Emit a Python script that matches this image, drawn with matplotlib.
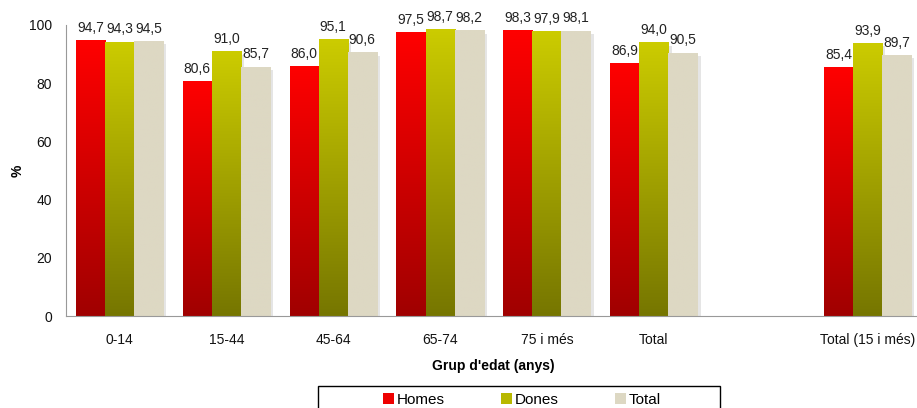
import matplotlib
matplotlib.use("Agg")
import matplotlib.pyplot as plt
import numpy as np
from matplotlib.colors import LinearSegmentedColormap
from matplotlib.patches import Patch, Rectangle

plt.rcParams['font.family'] = ['Liberation Sans', 'DejaVu Sans']

categories = ['0-14', '15-44', '45-64', '65-74', '75 i més', 'Total', '', 'Total (15 i més)']
homes = [94.7, 80.6, 86.0, 97.5, 98.3, 86.9, None, 85.4]
dones = [94.3, 91.0, 95.1, 98.7, 97.9, 94.0, None, 93.9]
total = [94.5, 85.7, 90.6, 98.2, 98.1, 90.5, None, 89.7]
series_names = ['Homes', 'Dones', 'Total']

# gradient colours (top, bottom)
grads = [('#ff0000', '#a00000'), ('#cccc00', '#767600'), ('#ddd8c3', '#ddd8c3')]
legend_cols = ['#ee0000', '#b8b800', '#ddd8c3']

fig = plt.figure(figsize=(9.17, 4.08), dpi=100)
ax = fig.add_axes([66 / 917, 1 - 316 / 408, (921 - 66) / 917, (316 - 25) / 408])

x = np.arange(len(categories))
w = 0.272
offsets = [-w, 0, w]

for s, (vals, (ctop, cbot)) in enumerate(zip([homes, dones, total], grads)):
    cmap = LinearSegmentedColormap.from_list('g%d' % s, [cbot, ctop])
    for i, v in enumerate(vals):
        if v is None:
            continue
        xl = x[i] + offsets[s] - w / 2
        # soft shadow
        ax.bar(xl + w / 2 + 0.03, v - 0.6, width=w, bottom=-0.6, color='#cccccc',
               alpha=0.5, zorder=1, linewidth=0)
        bar = ax.bar(xl + w / 2, v, width=w, color='none', zorder=3, linewidth=0)[0]
        grad = np.linspace(0, 1, 256).reshape(-1, 1)
        im = ax.imshow(grad, cmap=cmap, origin='lower', aspect='auto',
                       extent=(xl, xl + w, 0, v), zorder=2)
        im.set_clip_path(bar)
        ax.text(x[i] + offsets[s], v + 1.8, ('%.1f' % v).replace('.', ','),
                ha='center', va='bottom', fontsize=10, color='#222222', zorder=4)

ax.set_xlim(-0.5, len(categories) - 0.5)
ax.set_ylim(0, 100)
ax.set_yticks(range(0, 101, 20))
ax.set_xticks(x)
ax.set_xticklabels(categories)
ax.tick_params(axis='both', length=0, labelsize=10, colors='#111111')
ax.tick_params(axis='x', pad=12)
ax.tick_params(axis='y', pad=10)

for side in ['top', 'right']:
    ax.spines[side].set_visible(False)
ax.spines['left'].set_color('#999999')
ax.spines['bottom'].set_color('#999999')

ax.set_xlabel("Grup d'edat (anys)", fontsize=10, fontweight='bold', labelpad=9)
ax.set_ylabel('%', fontsize=10, fontweight='bold', labelpad=3)

# legend box (runs off the bottom of the picture, as in the original)
fig.patches.append(Rectangle((318 / 917, -0.1), (720 - 318) / 917, 0.1 + (408 - 386) / 408,
                             transform=fig.transFigure, facecolor='white',
                             edgecolor='black', linewidth=1.0, zorder=0))
handles = [Patch(facecolor=c, edgecolor='none') for c in legend_cols]
leg = fig.legend(handles, series_names, loc='center', ncol=3,
                 bbox_to_anchor=(522 / 917, 1 - 400 / 408), frameon=False,
                 fontsize=11, handlelength=0.7, handleheight=0.7,
                 handletextpad=0.2, columnspacing=3.7, borderpad=0,
                 borderaxespad=0)

fig.savefig('out.png', dpi=100)
